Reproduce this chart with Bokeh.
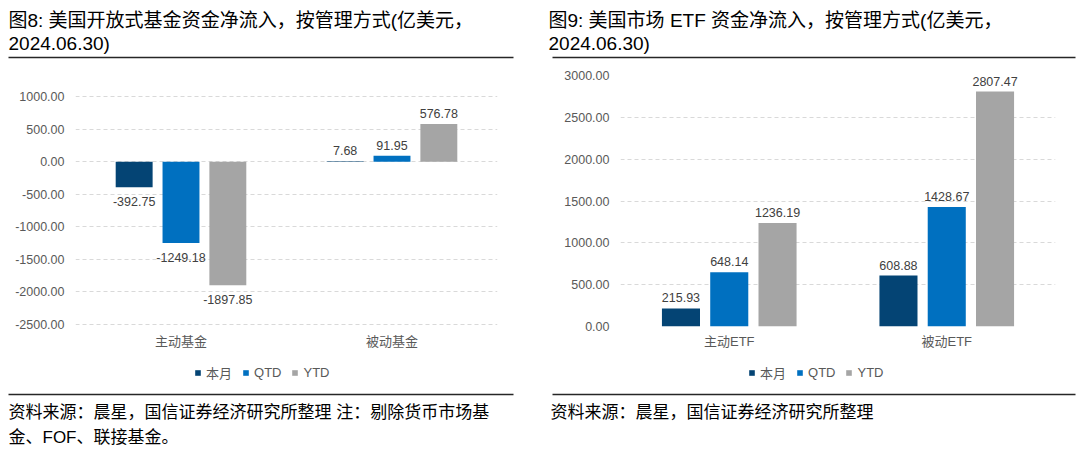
from bokeh.plotting import figure
from bokeh.models import (ColumnDataSource, FactorRange, Range1d, LabelSet, Legend, LegendItem,
                          SingleIntervalTicker, NumeralTickFormatter)
from bokeh.layouts import row, column
from bokeh.transform import dodge
from bokeh.core.properties import value
from bokeh.embed import file_html
from bokeh.resources import INLINE

FONT = "Liberation Sans, Noto Sans CJK SC"

series_names = ["本月", "QTD", "YTD"]
series_colors = ["#044474", "#0070C0", "#A5A5A5"]

# ---- left panel data ----
left_title = ["图8: 美国开放式基金资金净流入，按管理方式(亿美元，", "2024.06.30)"]
left_categories = ["主动基金", "被动基金"]
left_month = [-392.75, 7.68]
left_qtd = [-1249.18, 91.95]
left_ytd = [-1897.85, 576.78]
left_axis_min, left_axis_max = -2500, 1000
left_note = ["资料来源：晨星，国信证券经济研究所整理  注：剔除货币市场基", "金、FOF、联接基金。"]

# ---- right panel data ----
right_title = ["图9: 美国市场 ETF 资金净流入，按管理方式(亿美元，", "2024.06.30)"]
right_categories = ["主动ETF", "被动ETF"]
right_month = [215.93, 608.88]
right_qtd = [648.14, 1428.67]
right_ytd = [1236.19, 2807.47]
right_axis_min, right_axis_max = 0, 3000
right_note = ["资料来源：晨星，国信证券经济研究所整理"]

y_step = 500

# layout (pixels inside a chart figure; both charts share one frame because the row aligns them)
CHART_H = 302
FRAME_TOP = 15
FRAME_BOTTOM = 266


def fit_range(vmin, vmax, px_top, px_bottom):
    """Range whose vmax sits at px_top and vmin at px_bottom inside the shared frame."""
    per_px = (vmax - vmin) / (px_bottom - px_top)
    return Range1d(vmin - (FRAME_BOTTOM - px_bottom) * per_px, vmax + (px_top - FRAME_TOP) * per_px)


def text_fig(height, blocks, font_size, rule_y, rules):
    p = figure(width=1080, height=height, x_range=Range1d(0, 1080), y_range=Range1d(height, 0),
               x_axis_type=None, y_axis_type=None, output_backend="svg", toolbar_location=None,
               min_border=0, title=None)
    p.grid.visible = False
    p.outline_line_color = None
    xs, ys, ts = [], [], []
    for x0, lines, line_ys in blocks:
        for t, yy in zip(lines, line_ys):
            xs.append(x0)
            ys.append(yy)
            ts.append(t)
    p.text(x=xs, y=ys, text=ts, text_font=value(FONT), text_font_size=font_size,
           text_baseline="middle", text_align="left", text_color="#000000")
    p.segment(x0=[r[0] for r in rules], y0=[rule_y] * len(rules), x1=[r[1] for r in rules],
              y1=[rule_y] * len(rules), line_color="#262626", line_width=1.4)
    return p


def chart_fig(categories, month, qtd, ytd, yrange, left, right):
    p = figure(width=540, height=CHART_H, x_range=FactorRange(factors=categories, range_padding=0),
               y_range=yrange, output_backend="svg", toolbar_location=None,
               title=None, min_border_top=FRAME_TOP, min_border_bottom=CHART_H - FRAME_BOTTOM,
               min_border_left=left, min_border_right=right)
    p.outline_line_color = None
    src = ColumnDataSource(dict(cat=categories, m=month, q=qtd, y=ytd))
    offsets = [-0.222, 0.0, 0.222]
    cols = ["m", "q", "y"]
    for off, col, color in zip(offsets, cols, series_colors):
        p.vbar(x=dodge("cat", off, range=p.x_range), top=col, bottom=0, width=0.175,
               source=src, fill_color=color, line_color=None)
        vals = src.data[col]
        pos = dict(cat=[c for c, v in zip(categories, vals) if v >= 0],
                   v=[v for v in vals if v >= 0], t=["%.2f" % v for v in vals if v >= 0])
        neg = dict(cat=[c for c, v in zip(categories, vals) if v < 0],
                   v=[v for v in vals if v < 0], t=["%.2f" % v for v in vals if v < 0])
        for d, base, yoff in ((pos, "bottom", 6), (neg, "top", -10)):
            if d["cat"]:
                ls = LabelSet(x=dodge("cat", off, range=p.x_range), y="v", text="t",
                              source=ColumnDataSource(d), text_align="center", text_baseline=base,
                              y_offset=yoff, text_font=value(FONT), text_font_size="12.5px",
                              text_color="#404040")
                p.add_layout(ls)
    # axes
    p.yaxis.ticker = SingleIntervalTicker(interval=y_step)
    p.yaxis.formatter = NumeralTickFormatter(format="0.00")
    p.yaxis.axis_line_color = None
    p.yaxis.major_tick_line_color = None
    p.yaxis.minor_tick_line_color = None
    p.yaxis.major_tick_out = 0
    p.yaxis.major_tick_in = 0
    p.yaxis.major_label_standoff = 7
    p.yaxis.major_label_text_font = FONT
    p.yaxis.major_label_text_font_size = "12.5px"
    p.yaxis.major_label_text_color = "#595959"
    p.xaxis.axis_line_color = None
    p.xaxis.major_tick_line_color = None
    p.xaxis.minor_tick_line_color = None
    p.xaxis.major_tick_out = 0
    p.xaxis.major_tick_in = 0
    p.xaxis.major_label_standoff = 7
    p.xaxis.major_label_text_font = FONT
    p.xaxis.major_label_text_font_size = "13px"
    p.xaxis.major_label_text_color = "#595959"
    p.xgrid.visible = False
    p.ygrid.grid_line_color = "#D9D9D9"
    p.ygrid.grid_line_dash = "4 3"
    p.ygrid.grid_line_width = 1
    return p


def add_legend(p, x, y_from_bottom):
    # zero-size proxy bars that only carry the series styles for the legend swatches
    src = ColumnDataSource(dict(x=[0], top=[0]))
    renderers = [p.vbar(x="x", top="top", bottom=0, width=0, source=src, fill_color=c, line_color=None)
                 for c in series_colors]
    items = [LegendItem(label=n, renderers=[r]) for n, r in zip(series_names, renderers)]
    legend = Legend(items=items, orientation="horizontal", location=(x, y_from_bottom),
                    glyph_width=7, glyph_height=7, label_standoff=5, spacing=10,
                    label_text_font=FONT, label_text_font_size="13px", label_text_color="#595959",
                    label_height=14, padding=0, margin=0, border_line_color=None,
                    background_fill_alpha=0)
    p.add_layout(legend)


header = text_fig(60, [(8, left_title, [20, 43]), (548, right_title, [20, 43])], "19px", 57,
                  [(8, 513), (552, 1075)])
c1 = chart_fig(left_categories, left_month, left_qtd, left_ytd,
               fit_range(left_axis_min, left_axis_max, 36, 264), 75, 43)
c2 = chart_fig(right_categories, right_month, right_qtd, right_ytd,
               fit_range(right_axis_min, right_axis_max, 15, 266), 80, 25)
footer = text_fig(91, [(8, left_note, [50, 75]), (550, right_note, [50, 75])], "17px", 32,
                  [(8, 513), (552, 1075)])
add_legend(footer, 194, 71)
add_legend(footer, 748, 71)

layout = column(header, row(c1, c2), footer)
open("out.html", "w").write(file_html(layout, INLINE))
